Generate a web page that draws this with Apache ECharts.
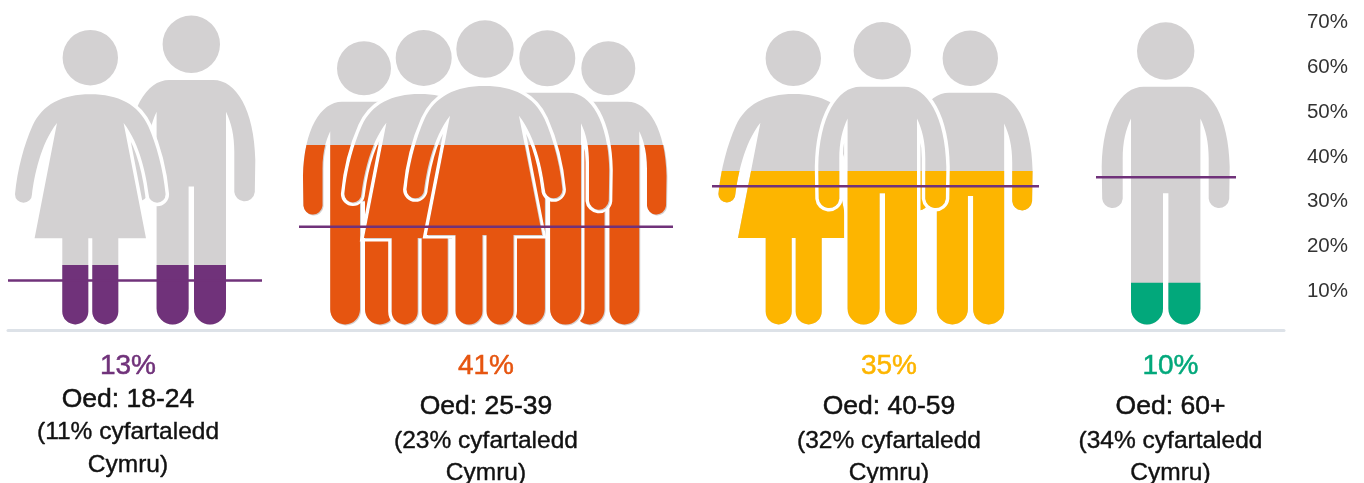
<!DOCTYPE html>
<html>
<head>
<meta charset="utf-8">
<title>Oed</title>
<script src="https://cdn.jsdelivr.net/npm/echarts@6/dist/echarts.min.js"></script>
<style>
  html, body { margin: 0; padding: 0; background: #fff; }
  #chart { width: 1364px; height: 483px; }
</style>
</head>
<body>
<div id="chart"></div>
<script>
// values
var ageLabels = ['Oed: 18-24', 'Oed: 25-39', 'Oed: 40-59', 'Oed: 60+'];
var sharePct = [13, 41, 35, 10];
var walesPct = [11, 23, 32, 34];          // purple line
var fillLevel = [14.5, 41.2, 35.4, 10.5]; // where the colour stops in each group
var colors = ['#70327A', '#E65510', '#FDB500', '#02A87B'];
var yTicks = [10, 20, 30, 40, 50, 60, 70];

var GREY = '#D3D1D2';
var FOOT = 324.4;

// k: m = man, w = woman. cx/sy = body centre and shoulder top, s = scale, head = [x, y, r]
// figures are listed back to front
var groups = [
  { textX: 128, rows: [365, 398, 431, 464], line: [8, 262], figures: [
    { k: 'm', cx: 191.3, sy: 80, s: 1, head: [191.3, 44.3, 28.7] },
    { k: 'w', cx: 90.3, sy: 94.3, s: 1, head: [90.3, 57.7, 27.7] }
  ] },
  { textX: 486, rows: [365, 405, 440, 472], line: [299, 673], shade: true, figures: [
    { k: 'm', cx: 362.5, sy: 101.7, s: 0.93, head: [364, 68.3, 27] },
    { k: 'm', cx: 607, sy: 101.7, s: 0.93, head: [608.3, 68.3, 27] },
    { k: 'w', cx: 419.7, sy: 94, s: 1, head: [423.7, 58, 28] },
    { k: 'm', cx: 547.5, sy: 92.7, s: 0.965, head: [547.3, 58.3, 28] },
    { k: 'w', cx: 484.5, sy: 86, s: 1.035, head: [485, 49, 28.7] }
  ] },
  { textX: 889, rows: [365, 405, 440, 472], line: [712, 1039], figures: [
    { k: 'w', cx: 793.7, sy: 94, s: 1, head: [793.3, 58.3, 27.7] },
    { k: 'm', cx: 970.5, sy: 92.7, s: 0.97, head: [970.3, 58.3, 27.7] },
    { k: 'm', cx: 882.3, sy: 86.7, s: 1, head: [882.3, 50.7, 28.7] }
  ] },
  { textX: 1170.5, rows: [365, 405, 440, 472], line: [1096, 1236], figures: [
    { k: 'm', cx: 1165.7, sy: 86.7, s: 1, head: [1165.7, 51, 28.7] }
  ] }
];

function figurePath(f) {
  var s = f.s;
  function p(x, y) { return (f.cx + x * s).toFixed(2) + ' ' + (f.sy + y * s).toFixed(2); }
  function foot(x) { return (f.cx + x * s).toFixed(2) + ' ' + (FOOT - legR).toFixed(2); }
  function arc(r, to) { return 'A' + (r * s).toFixed(2) + ' ' + (r * s).toFixed(2) + ' 0 0 1 ' + to; }
  var legR, d;
  if (f.k === 'm') {
    legR = 16 * s;
    d = 'M' + p(-22, 0) + 'L' + p(22, 0)
      + 'C' + p(45, 0) + ' ' + p(63, 30) + ' ' + p(64, 80)
      + 'L' + p(63.5, 112) + arc(10.3, p(43, 112))
      + 'L' + p(43, 72) + 'C' + p(43, 55) + ' ' + p(40, 43) + ' ' + p(34.7, 31.7)
      + 'L' + foot(34.7) + arc(16, foot(2.7))
      + 'L' + p(2.7, 106.5) + 'L' + p(-2.7, 106.5)
      + 'L' + foot(-2.7) + arc(16, foot(-34.7))
      + 'L' + p(-34.7, 31.7) + 'C' + p(-40, 43) + ' ' + p(-43, 55) + ' ' + p(-43, 72)
      + 'L' + p(-43, 112) + arc(10.3, p(-63.5, 112))
      + 'L' + p(-64, 80) + 'C' + p(-63, 30) + ' ' + p(-45, 0) + ' ' + p(-22, 0) + 'Z';
  } else {
    legR = 13 * s;
    d = 'M' + p(0, 0)
      + 'C' + p(28, 0) + ' ' + p(48, 10) + ' ' + p(58, 32)
      + 'C' + p(66, 50) + ' ' + p(73, 75) + ' ' + p(75.3, 100)
      + arc(8.5, p(58.3, 100))
      + 'C' + p(56, 82) + ' ' + p(50, 50) + ' ' + p(33.3, 28.7)
      + 'L' + p(55.7, 144) + 'L' + p(28, 144)
      + 'L' + foot(28) + arc(13, foot(2))
      + 'L' + p(2, 144) + 'L' + p(-2, 144)
      + 'L' + foot(-2) + arc(13, foot(-28))
      + 'L' + p(-28, 144) + 'L' + p(-55.7, 144) + 'L' + p(-33.3, 28.7)
      + 'C' + p(-50, 50) + ' ' + p(-56, 82) + ' ' + p(-58.3, 100)
      + arc(8.5, p(-75.3, 100))
      + 'C' + p(-73, 75) + ' ' + p(-66, 50) + ' ' + p(-58, 32)
      + 'C' + p(-48, 10) + ' ' + p(-28, 0) + ' ' + p(0, 0) + 'Z';
  }
  var h = f.head;
  d += 'M' + (h[0] + h[2]) + ' ' + h[1]
    + 'A' + h[2] + ' ' + h[2] + ' 0 1 1 ' + (h[0] - h[2]) + ' ' + h[1]
    + 'A' + h[2] + ' ' + h[2] + ' 0 1 1 ' + (h[0] + h[2]) + ' ' + h[1] + 'Z';
  return d;
}

function textEl(x, y, text, size, color, weight) {
  return {
    type: 'text', silent: true, x: x, y: y + 1.5,
    style: {
      text: text, x: 0, y: 0, align: 'center', verticalAlign: 'middle', fill: color,
      stroke: color, lineWidth: weight,
      font: size + 'px "Liberation Sans", Arial, sans-serif'
    }
  };
}

function renderGroup(params, api) {
  var i = params.dataIndex;
  var g = groups[i];
  var fillY = api.coord([0, api.value(1)])[1];
  var lineY = api.coord([0, api.value(2)])[1];
  var below = { type: 'rect', shape: { x: 0, y: fillY, width: 1364, height: 483 - fillY } };
  var children = [];

  g.figures.forEach(function (f) {
    var d = figurePath(f);
    children.push({ type: 'path', silent: true, shape: { pathData: d }, style: { fill: '#fff', stroke: '#fff', lineWidth: 7 } });
    if (g.shade) {
      // the orange group has a faint grey edge on the lower right
      children.push({ type: 'path', silent: true, x: 1, y: 1, shape: { pathData: d }, style: { fill: GREY }, clipPath: { type: 'rect', shape: { x: 0, y: fillY - 1, width: 1364, height: 483 - fillY } } });
    }
    children.push({ type: 'path', silent: true, shape: { pathData: d }, style: { fill: GREY } });
    children.push({ type: 'path', silent: true, shape: { pathData: d }, style: { fill: colors[i] }, clipPath: below });
  });

  children.push({
    type: 'line', silent: true,
    shape: { x1: g.line[0], y1: lineY, x2: g.line[1], y2: lineY },
    style: { stroke: '#70327A', lineWidth: 2.5 }
  });

  children.push(textEl(g.textX, g.rows[0], sharePct[i] + '%', 28, colors[i], 0.5));
  children.push(textEl(g.textX, g.rows[1], ageLabels[i], 26.5, '#111', 0.5));
  children.push(textEl(g.textX, g.rows[2], '(' + walesPct[i] + '% cyfartaledd', 24.5, '#111', 0.4));
  children.push(textEl(g.textX, g.rows[3], 'Cymru)', 24.5, '#111', 0.4));

  return { type: 'group', children: children };
}

var chart = echarts.init(document.getElementById('chart'));

chart.setOption({
  animation: false,
  backgroundColor: '#fff',
  grid: { left: 8, width: 1276, top: 15.7, height: 314.3 },
  xAxis: {
    type: 'value', min: 8, max: 1284,
    axisLine: { show: true, onZero: false, lineStyle: { color: '#DDE2E8', width: 3 } },
    axisTick: { show: false }, axisLabel: { show: false }, splitLine: { show: false }
  },
  yAxis: {
    type: 'value', position: 'right', min: 0, max: yTicks[yTicks.length - 1], interval: 10,
    axisLine: { show: false }, axisTick: { show: false }, splitLine: { show: false },
    axisLabel: {
      margin: 64, align: 'right', verticalAlign: 'top', lineHeight: 13,
      color: '#333', fontSize: 20.5, fontFamily: '"Liberation Sans", Arial, sans-serif',
      formatter: function (v) { return v === 0 ? '' : v + '%'; }
    }
  },
  series: [{
    type: 'custom',
    clip: false,
    renderItem: renderGroup,
    encode: { x: 0, y: 1 },
    data: fillLevel.map(function (v, i) { return [groups[i].textX, v, walesPct[i]]; })
  }]
});
</script>
</body>
</html>
